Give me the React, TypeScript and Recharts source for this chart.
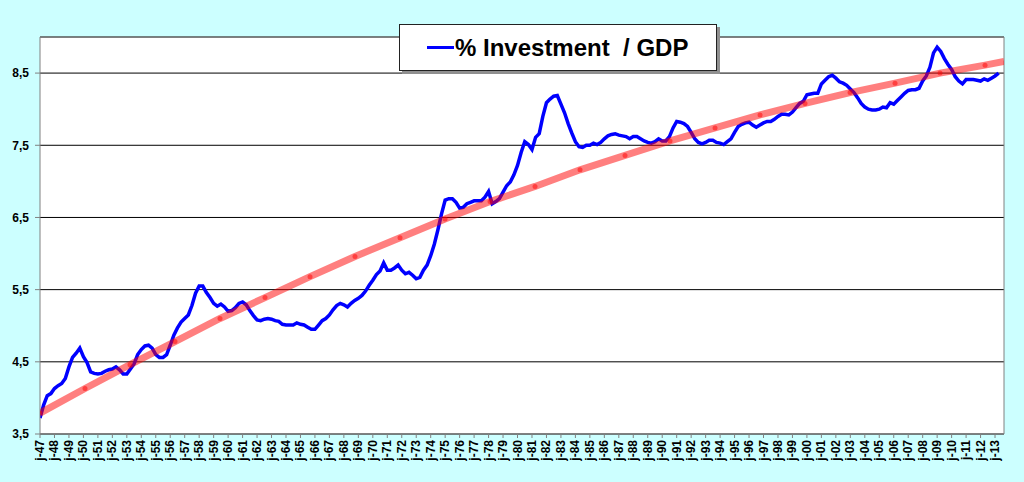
import { CartesianGrid, Legend, Line, LineChart, ReferenceLine, XAxis, YAxis } from 'recharts'

// quarterly, from 1947 Q1
const INVESTMENT = [
  3.72, 3.9, 4.03, 4.06, 4.13, 4.17, 4.2, 4.27,
  4.43, 4.56, 4.62, 4.69, 4.57, 4.49, 4.36, 4.34,
  4.33, 4.34, 4.37, 4.39, 4.4, 4.43, 4.39, 4.33,
  4.33, 4.4, 4.47, 4.6, 4.67, 4.72, 4.73, 4.69,
  4.6, 4.56, 4.56, 4.6, 4.73, 4.87, 4.97, 5.05,
  5.1, 5.15, 5.28, 5.45, 5.55, 5.55, 5.46, 5.39,
  5.31, 5.27, 5.3, 5.26, 5.2, 5.21, 5.25, 5.31,
  5.33, 5.29, 5.21, 5.14, 5.08, 5.07, 5.09, 5.1,
  5.09, 5.07, 5.06, 5.02, 5.01, 5.01, 5.01, 5.04,
  5.02, 5.01, 4.98, 4.95, 4.95, 5.01, 5.07, 5.1,
  5.15, 5.22, 5.28, 5.31, 5.29, 5.26, 5.31, 5.35,
  5.38, 5.42, 5.48, 5.56, 5.63, 5.71, 5.76, 5.87,
  5.77, 5.77, 5.8, 5.84, 5.77, 5.72, 5.74, 5.7,
  5.65, 5.67, 5.77, 5.84, 5.97, 6.13, 6.33, 6.55,
  6.74, 6.76, 6.76, 6.71, 6.63, 6.64, 6.69, 6.71,
  6.73, 6.73, 6.73, 6.78, 6.86, 6.69, 6.72, 6.76,
  6.85, 6.94, 6.99, 7.09, 7.22, 7.4, 7.55, 7.51,
  7.44, 7.61, 7.66, 7.9, 8.09, 8.14, 8.18, 8.19,
  8.07, 7.95, 7.8, 7.67, 7.55, 7.48, 7.47, 7.5,
  7.5, 7.53, 7.51, 7.54, 7.59, 7.63, 7.65, 7.66,
  7.64, 7.63, 7.62, 7.59, 7.62, 7.62, 7.59, 7.56,
  7.54, 7.53, 7.55, 7.59, 7.56, 7.56, 7.62, 7.74,
  7.83, 7.82, 7.8, 7.76, 7.68, 7.59, 7.54, 7.52,
  7.54, 7.57, 7.57, 7.54, 7.53, 7.51, 7.55, 7.59,
  7.68, 7.76, 7.79, 7.81, 7.82, 7.78, 7.75, 7.78,
  7.81, 7.83, 7.83, 7.86, 7.9, 7.93, 7.93, 7.92,
  7.96, 8.02, 8.08, 8.11, 8.2, 8.21, 8.22, 8.22,
  8.35, 8.4, 8.45, 8.47, 8.43, 8.38, 8.36, 8.33,
  8.28, 8.23, 8.16, 8.08, 8.03, 8.0, 7.99, 7.99,
  8.0, 8.03, 8.02, 8.09, 8.07, 8.12, 8.17, 8.22,
  8.26, 8.27, 8.27, 8.29, 8.39, 8.46, 8.58, 8.78,
  8.86, 8.8, 8.7, 8.62, 8.55, 8.45, 8.39, 8.35,
  8.41, 8.41, 8.41, 8.4, 8.39, 8.42, 8.4, 8.43,
  8.46, 8.5,
]

const TREND_YEARS = [
  1947, 1950.11, 1953.22, 1956.33, 1959.44, 1962.55, 1965.66, 1968.77, 1971.88, 1974.99, 1978.1,
  1981.21, 1984.32, 1987.43, 1990.54, 1993.65, 1996.76, 1999.87, 2002.98, 2006.09, 2009.2, 2012.31, 2013.62,
]
const TREND_VALUES = [
  3.79, 4.13, 4.46, 4.78, 5.1, 5.39, 5.68, 5.96, 6.22, 6.48, 6.72,
  6.93, 7.16, 7.36, 7.56, 7.74, 7.92, 8.08, 8.23, 8.36, 8.5, 8.61, 8.66,
]

const FIRST_YEAR = 1947
const LAST_YEAR = 2013
const X_MAX = 2013.62
const YEARS = Array.from({ length: LAST_YEAR - FIRST_YEAR + 1 }, (_, i) => FIRST_YEAR + i)
const Y_TICKS = [3.5, 4.5, 5.5, 6.5, 7.5, 8.5]

const series = INVESTMENT.map((v, i) => ({ t: FIRST_YEAR + i / 4, v }))
const trend = TREND_YEARS.map((t, i) => ({ t, v: TREND_VALUES[i] }))

const FONT = '"Liberation Sans", Arial, sans-serif'

function yearLabel(y: number) {
  return 'j-' + String(y % 100).padStart(2, '0')
}

function YearTick({ x, y, payload }: any) {
  return (
    <text
      x={x}
      y={y}
      transform={`rotate(-90 ${x} ${y})`}
      textAnchor="end"
      dominantBaseline="central"
      fontSize={12}
      fontWeight="bold"
      fontFamily={FONT}
      fill="#000"
    >
      {yearLabel(payload.value)}
    </text>
  )
}

function TrendDot(p: any) {
  if (p.index === TREND_VALUES.length - 1) return <g key={p.key} />
  return <circle key={p.key} cx={p.cx} cy={p.cy} r={2.5} fill="#ff0000" fillOpacity={0.5} />
}

const legendBox = () => (
  <div
    style={{
      width: 318,
      height: 47,
      boxSizing: 'border-box',
      background: '#fff',
      border: '1px solid #222',
      boxShadow: '3px 3px 0 #909090',
      display: 'flex',
      alignItems: 'center',
      paddingLeft: 27,
      fontFamily: FONT,
    }}
  >
    <span style={{ display: 'inline-block', width: 27, height: 3, background: '#0000ff', marginRight: 1 }} />
    <span style={{ fontSize: 24, fontWeight: 'bold', color: '#000', whiteSpace: 'pre' }}>% Investment  / GDP</span>
  </div>
)

export default function App() {
  return (
    <div style={{ width: 1024, height: 482, background: '#ccffff' }}>
      <style>{'body{margin:0}'}</style>
      <LineChart width={1024} height={482} margin={{ top: 37, right: 20, bottom: 0, left: 0 }}>
        <CartesianGrid vertical={false} stroke="#000" fill="#fff" fillOpacity={1} />
        <XAxis
          dataKey="t"
          type="number"
          domain={[FIRST_YEAR, X_MAX]}
          ticks={YEARS}
          interval={0}
          allowDataOverflow
          height={48}
          stroke="#808080"
          tickSize={4}
          tickMargin={2}
          tick={<YearTick />}
        />
        <YAxis
          type="number"
          domain={[3.5, 9]}
          ticks={Y_TICKS}
          allowDataOverflow
          width={40}
          stroke="#808080"
          tickSize={5}
          tickMargin={6}
          tickFormatter={(v: number) => v.toFixed(1).replace('.', ',')}
          tick={{ fill: '#000', fontSize: 12, fontWeight: 'bold', fontFamily: FONT }}
        />
        <ReferenceLine y={9} stroke="#808080" />
        <ReferenceLine x={X_MAX} stroke="#808080" />
        <Line
          data={series}
          dataKey="v"
          type="linear"
          stroke="#0000ff"
          strokeWidth={3.5}
          dot={false}
          isAnimationActive={false}
        />
        <Line
          data={trend}
          dataKey="v"
          type="linear"
          stroke="#ff0000"
          strokeOpacity={0.5}
          strokeWidth={7}
          dot={TrendDot}
          isAnimationActive={false}
        />
        <Legend
          layout="horizontal"
          verticalAlign="middle"
          align="center"
          content={legendBox}
          wrapperStyle={{ left: 399, top: 24, width: 318, height: 47 }}
        />
      </LineChart>
    </div>
  )
}
